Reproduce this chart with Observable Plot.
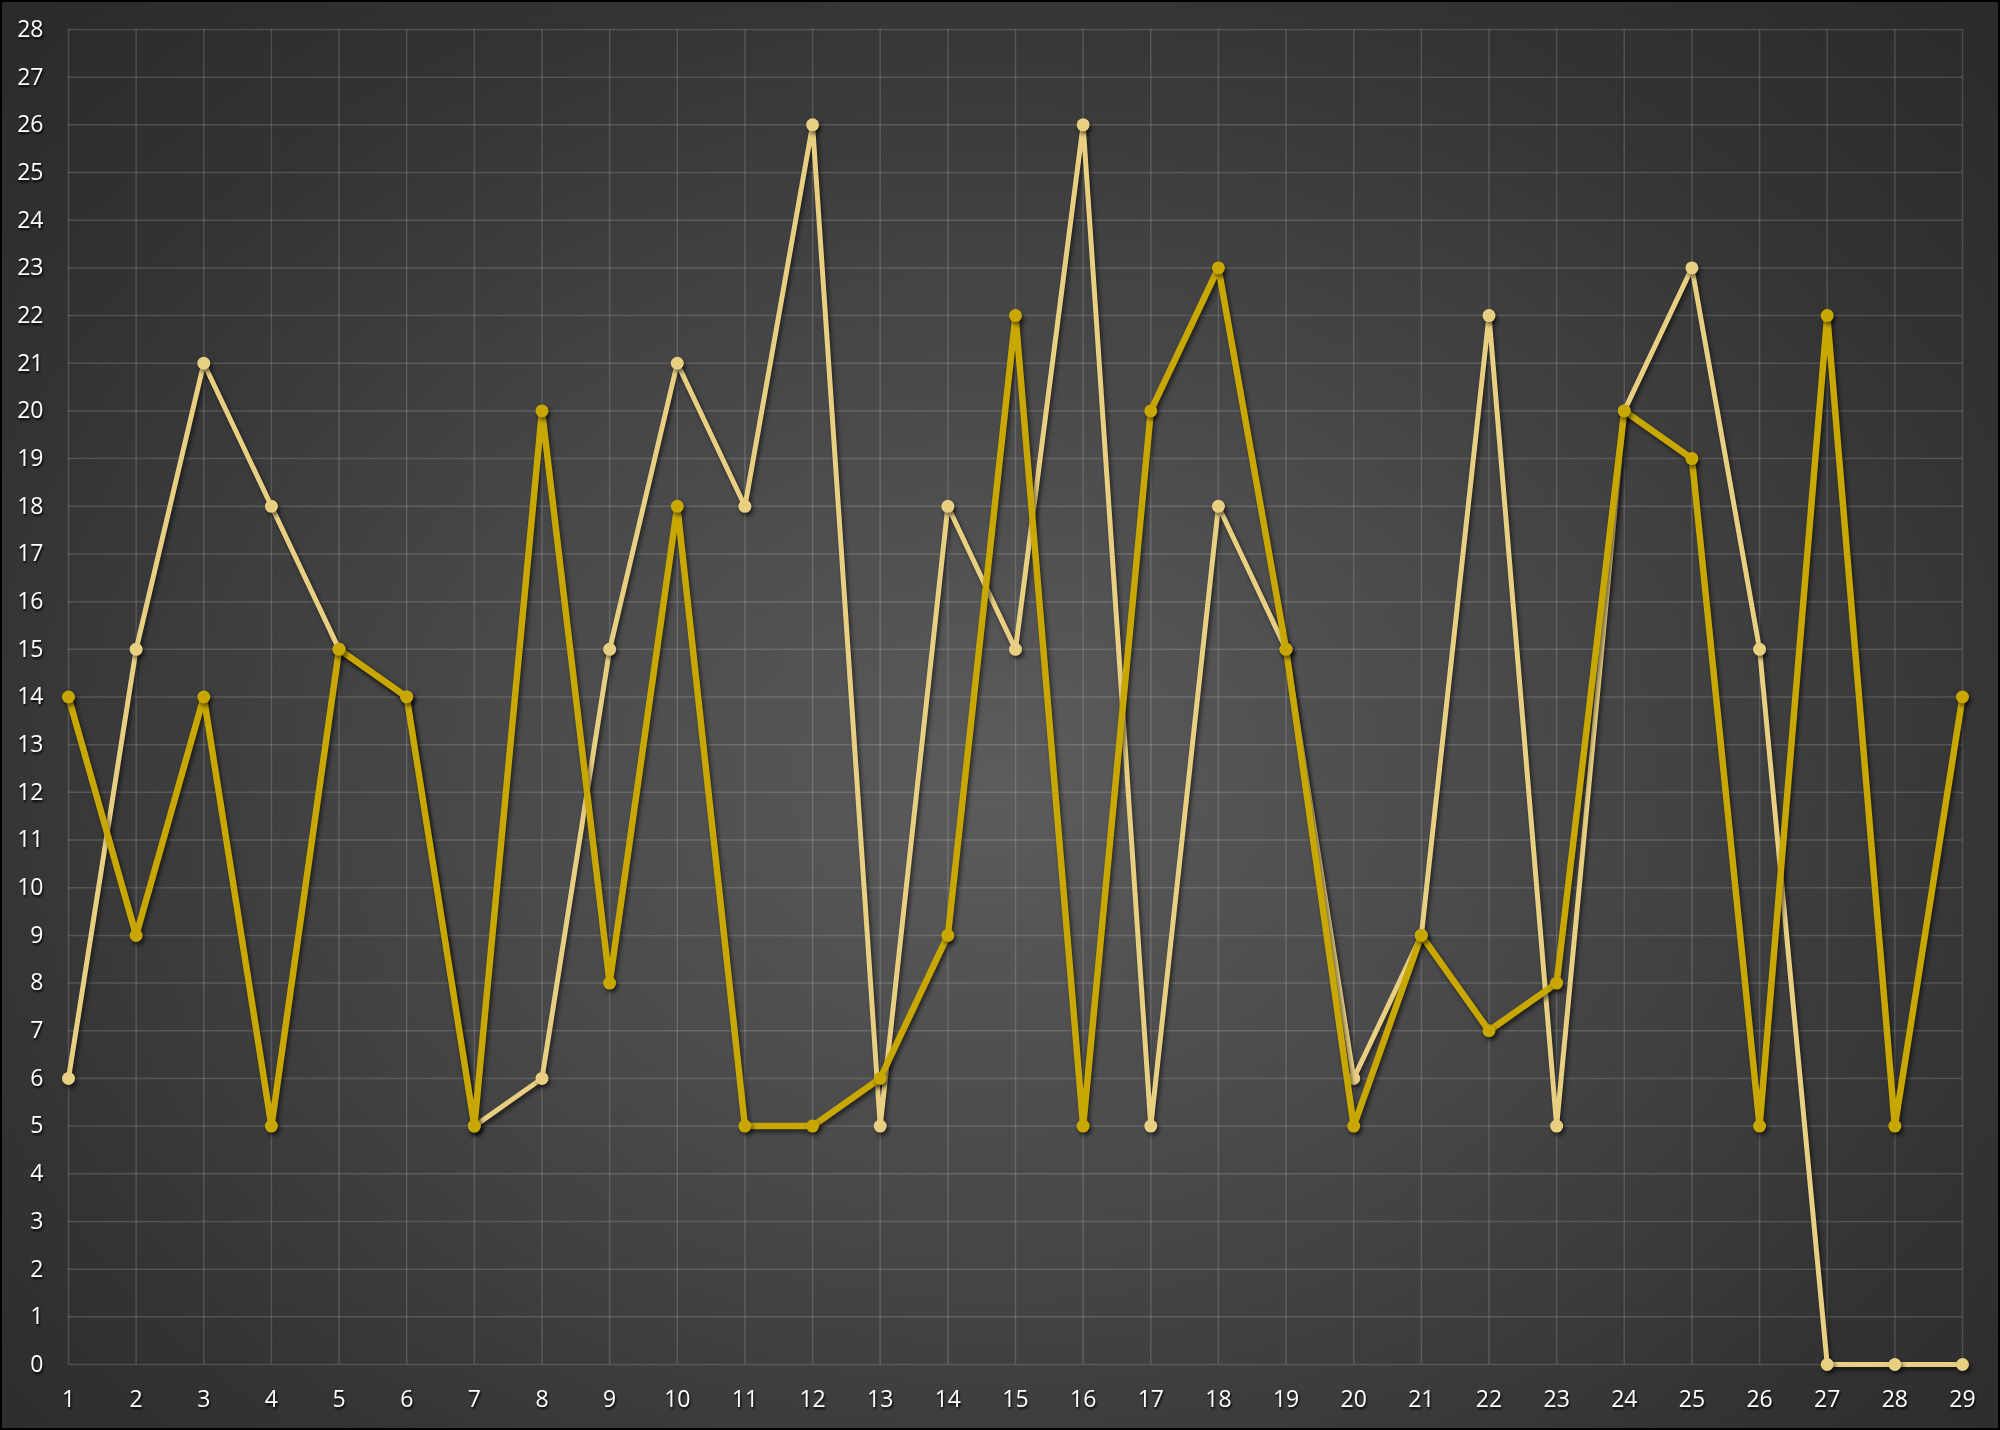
<!DOCTYPE html>
<html>
<head>
<meta charset="utf-8">
<script src="https://cdn.jsdelivr.net/npm/d3@7"></script>
<script src="https://cdn.jsdelivr.net/npm/@observablehq/plot@0.6"></script>
<style>
  html, body { margin: 0; padding: 0; background: #2a2a2a; }
  #chart svg { display: block; }
  #chart svg g[aria-label="line"] { filter: drop-shadow(2px 3px 2px rgba(0,0,0,0.55)); }
  #chart svg g[aria-label="dot"] { filter: drop-shadow(2px 3px 2px rgba(0,0,0,0.55)); }
  #chart svg g[aria-label="x-axis tick label"], #chart svg g[aria-label="y-axis tick label"] { filter: drop-shadow(1px 2px 1px rgba(0,0,0,0.9)); }
</style>
</head>
<body>
<div id="chart"></div>
<script>
const categories = [1,2,3,4,5,6,7,8,9,10,11,12,13,14,15,16,17,18,19,20,21,22,23,24,25,26,27,28,29];
const lightSeries = [6,15,21,18,15,14,5,6,15,21,18,26,5,18,15,26,5,18,15,6,9,22,5,20,23,15,0,0,0];
const darkSeries  = [14,9,14,5,15,14,5,20,8,18,5,5,6,9,22,5,20,23,15,5,9,7,8,20,19,5,22,5,14];
const yTicks = [0,1,2,3,4,5,6,7,8,9,10,11,12,13,14,15,16,17,18,19,20,21,22,23,24,25,26,27,28];

const lightData = categories.map((c, i) => ({x: c, y: lightSeries[i]}));
const darkData = categories.map((c, i) => ({x: c, y: darkSeries[i]}));

const lightColor = "#e8cf82";
const darkColor = "#c8a800";

const plot = Plot.plot({
  width: 2000,
  height: 1430,
  marginLeft: 68,
  marginRight: 38,
  marginTop: 29,
  marginBottom: 66,
  style: {
    background: "radial-gradient(ellipse at 50% 55%, #5c5c5c 0%, #4a4a4a 35%, #333333 75%, #2a2a2a 100%)",
    fontFamily: "'Open Sans', 'Noto Sans', sans-serif",
    fontSize: "23px",
    color: "#ffffff"
  },
  x: { domain: [1, 29], ticks: categories, tickFormat: d => String(d) },
  y: { domain: [0, 28], ticks: yTicks },
  marks: [
    Plot.gridX(categories, { stroke: "#ffffff", strokeOpacity: 0.15, strokeWidth: 1.5 }),
    Plot.gridY(yTicks, { stroke: "#ffffff", strokeOpacity: 0.15, strokeWidth: 1.5 }),
    Plot.axisX(categories, { tickSize: 0, tickPadding: 26, fill: "#ffffff", fontSize: 23, label: null }),
    Plot.axisY(yTicks, { tickSize: 0, tickPadding: 25, fill: "#ffffff", fontSize: 23, label: null }),
    Plot.line(lightData, { x: "x", y: "y", stroke: lightColor, strokeWidth: 5 }),
    Plot.dot(lightData, { x: "x", y: "y", r: 6.5, fill: lightColor }),
    Plot.line(darkData, { x: "x", y: "y", stroke: darkColor, strokeWidth: 6.5 }),
    Plot.dot(darkData, { x: "x", y: "y", r: 6.5, fill: darkColor })
  ]
});
plot.style.boxShadow = "inset 0 0 0 2px #000";
document.getElementById("chart").appendChild(plot);
</script>
</body>
</html>
